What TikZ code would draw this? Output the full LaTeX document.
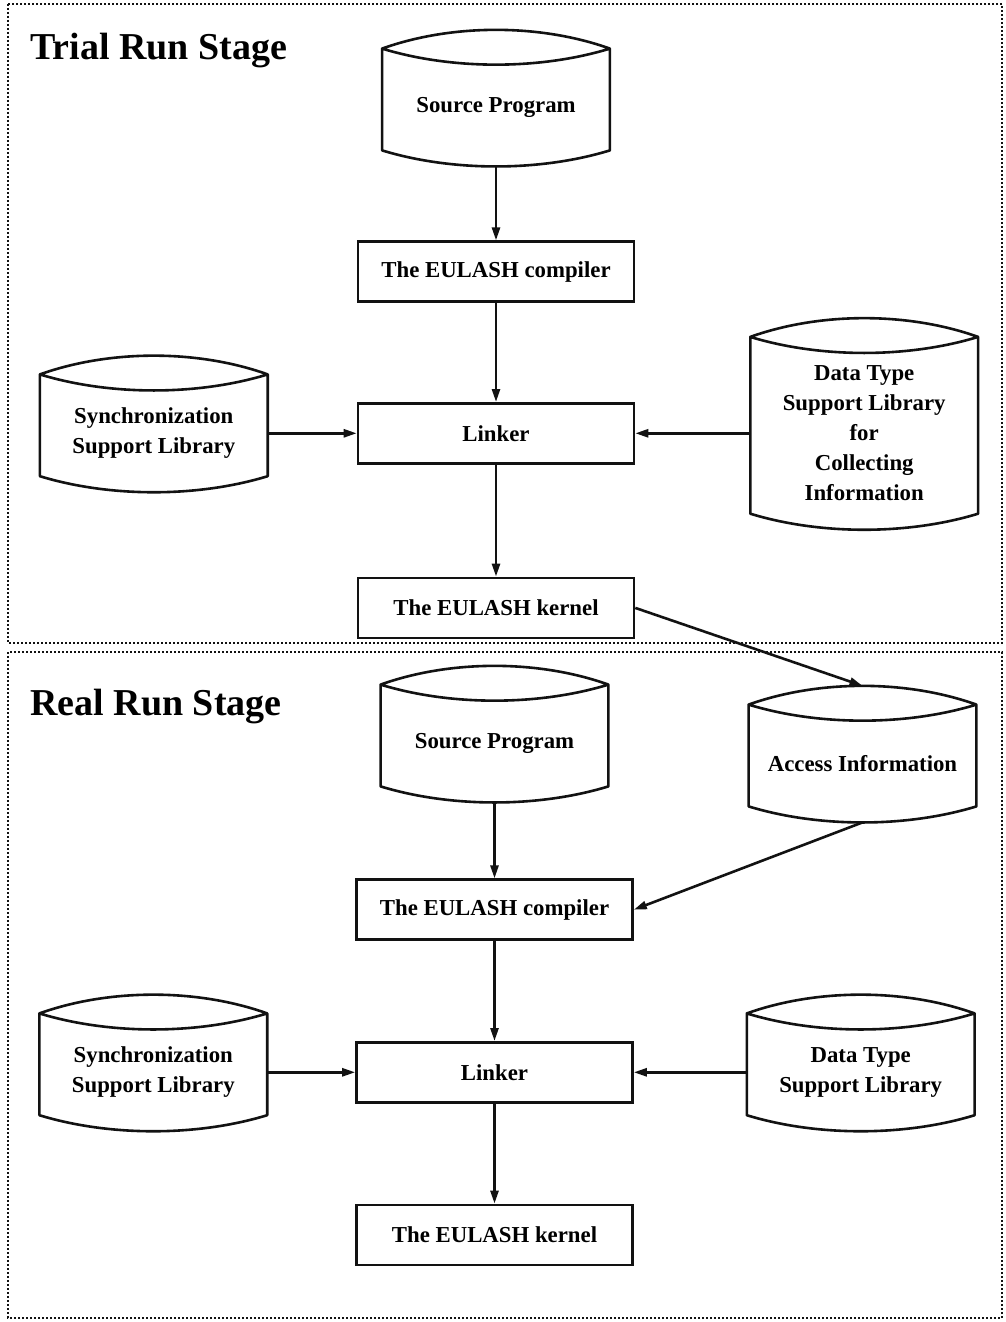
\documentclass[tikz,border=0pt]{standalone}
\usepackage{fontspec}
\setmainfont{Liberation Serif}
\usetikzlibrary{arrows.meta,positioning,calc}
\definecolor{scanink}{RGB}{18,18,18}
\newcommand{\boxfont}{\fontsize{11.4}{15}\selectfont\bfseries}
\tikzset{
  procbox/.style={draw=scanink, line width=1.3pt, minimum width=138pt, minimum height=30pt,
    inner sep=0pt, align=center, font=\boxfont},
  store/.style={minimum width=113.5pt, minimum height=42.5pt, inner sep=0pt, align=center,
    font=\boxfont, append after command={\pgfextra{\let\storenode\tikzlastnode
      \draw[draw=scanink, line width=1.3pt, line join=round]
        ([yshift=8pt]\storenode.north west) .. controls +(35pt,12.5pt) and +(-35pt,12.5pt)
          .. ([yshift=8pt]\storenode.north east)
          .. controls +(-35pt,-10.7pt) and +(35pt,-10.7pt) .. ([yshift=8pt]\storenode.north west)
          -- (\storenode.south west)
          .. controls +(35pt,-10.7pt) and +(-35pt,-10.7pt) .. (\storenode.south east)
          -- ([yshift=8pt]\storenode.north east);
      \coordinate (\storenode-top) at ([yshift=17.4pt]\storenode.north);
      \coordinate (\storenode-bot) at ([yshift=-8pt]\storenode.south);}}},
  flow/.style={-{Triangle[length=6.5pt,width=4pt]}, line width=1.3pt, draw=scanink},
  stageframe/.style={draw=scanink, line width=1.1pt, dash pattern=on 1pt off 1pt},
  stagetitle/.style={font=\fontsize{19}{22}\selectfont\bfseries, anchor=base west, inner sep=0pt}
}
\begin{document}
\begin{tikzpicture}[x=0.5pt,y=0.5pt]
        \useasboundingbox (0,0) rectangle (1006,-1322);
        \draw[stageframe] (8,-4) rectangle (1002,-643);
        \draw[stageframe] (8,-652) rectangle (1002,-1318);

        \node[stagetitle] (trialtitle) at (30,-60) {Trial Run Stage};
        \node[store] (src1) at (496,-107.5) {Source Program};
        \node[procbox,below=45pt of src1] (comp1) {The EULASH compiler};
        \node[procbox,below=49.5pt of comp1] (link1) {Linker};
        \node[procbox,below=56pt of link1] (kern1) {The EULASH kernel};
        \node[store,left=44.5pt of link1] (sync1) {Synchronization\\Support Library};
        \node[store,right=57.5pt of link1,minimum height=80pt] (data1)
          {Data Type\\Support Library\\for\\Collecting\\Information};

        \node[stagetitle] (realtitle) at (30,-715) {Real Run Stage};
        \node[store] (src2) at (494.5,-743.5) {Source Program};
        \node[store] (acc) at (862.5,-763.5) {Access Information};
        \node[procbox,below=46pt of src2] (comp2) {The EULASH compiler};
        \node[procbox,below=50pt of comp2] (link2) {Linker};
        \node[procbox,below=50pt of link2] (kern2) {The EULASH kernel};
        \node[store,left=44pt of link2] (sync2) {Synchronization\\Support Library};
        \node[store,right=56.5pt of link2] (data2) {Data Type\\Support Library};

        \draw[flow] (src1-bot) -- (comp1);
        \draw[flow] (comp1) -- (link1);
        \draw[flow] (link1) -- (kern1);
        \draw[flow] (sync1) -- (link1);
        \draw[flow] (data1) -- (link1);
        \draw[flow] (kern1.east) -- (acc-top);

        \draw[flow] (src2-bot) -- (comp2);
        \draw[flow] (acc-bot) -- (comp2.east);
        \draw[flow] (comp2) -- (link2);
        \draw[flow] (link2) -- (kern2);
        \draw[flow] (sync2) -- (link2);
        \draw[flow] (data2) -- (link2);
\end{tikzpicture}
\end{document}
